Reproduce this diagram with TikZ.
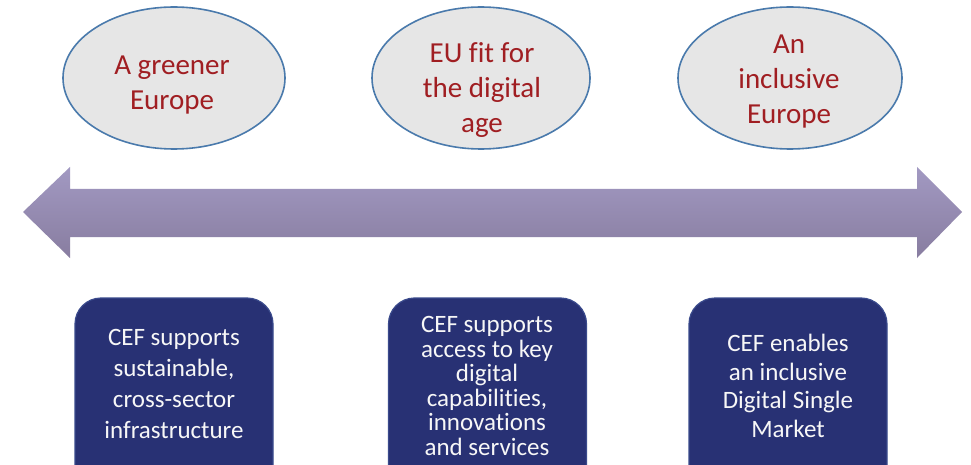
\documentclass[tikz,border=0pt]{standalone}
\usepackage{fontspec}
\setmainfont[Ligatures=NoCommon]{Carlito}
\usetikzlibrary{shapes.geometric}
\definecolor{ovalfill}{HTML}{E6E6E6}
\definecolor{ovalline}{HTML}{4A7AAC}
\definecolor{ovaltext}{HTML}{A01E22}
\definecolor{boxfill}{HTML}{283174}
\definecolor{boxline}{HTML}{3A4A8C}
\definecolor{arrowtop}{HTML}{A299C2}
\definecolor{arrowmid}{HTML}{A097BF}
\definecolor{arrowbot}{HTML}{887DA0}
\tikzset{
  oval/.style={ellipse, draw=ovalline, line width=1.6pt, fill=ovalfill, minimum width=#1, minimum height=142, inner sep=0pt},
  ovaltxt/.style={text=ovaltext, align=center, font=\fontsize{29}{35}\selectfont},
  cefbox/.style={rectangle, rounded corners=26pt, draw=boxline, line width=1.2pt, fill=boxfill, minimum width=198, minimum height=200, inner sep=0pt},
  boxtxt/.style={text=white!94!gray, align=center, font=\fontsize{25}{#1}\selectfont}
}
\begin{document}
\begin{tikzpicture}[x=1pt,y=-1pt]
\useasboundingbox (0,0) rectangle (971,465);
\clip (0,0) rectangle (971,465);
\fill[white] (0,0) rectangle (971,465);
% double arrow
\shade[top color=arrowtop, middle color=arrowmid, bottom color=arrowbot, shading angle=0]
  (23,212) -- (70,167) -- (70,189) -- (917,189) -- (917,167) -- (962,212)
  -- (917,258) -- (917,237) -- (70,237) -- (70,258) -- cycle;
% ellipses
\node[oval=222] (e1) at (174,78) {};
\node[oval=218] (e2) at (481,78) {};
\node[oval=224] (e3) at (790,78) {};
\node[ovaltxt] (t1) at (172,85) {A greener\\Europe};
\node[ovaltxt] (t2) at (482,90) {EU fit for\\the digital\\age};
\node[ovaltxt] (t3) at (789,82) {An\\inclusive\\Europe};
% boxes
\node[cefbox] (b1) at (174,398) {};
\node[cefbox] (b2) at (487.5,398) {};
\node[cefbox] (b3) at (788,398) {};
\node[boxtxt=31] (bt1) at (174,384) {CEF supports\\sustainable,\\cross-sector\\infrastructure};
\node[boxtxt=24.5] (bt2) at (487,386) {CEF supports\\access to key\\digital\\capabilities,\\innovations\\and services};
\node[boxtxt=28.5] (bt3) at (788,386) {CEF enables\\an inclusive\\Digital Single\\Market};
\end{tikzpicture}
\end{document}
